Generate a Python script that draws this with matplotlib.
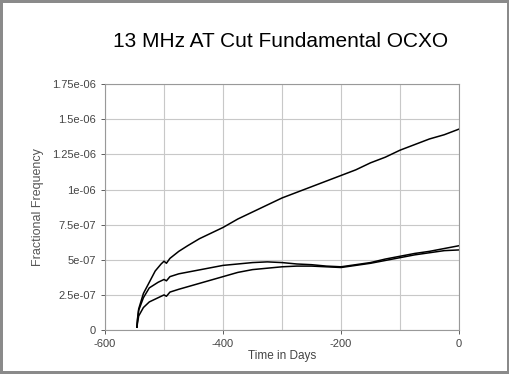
import matplotlib.pyplot as plt
import numpy as np

plt.rcParams['font.family'] = ['Liberation Sans', 'DejaVu Sans']
plt.rcParams['axes.unicode_minus'] = False

# values (days, fractional frequency)
days_top = [-546, -545, -543, -535, -525, -515, -505, -500, -496, -490, -475, -460,
            -440, -420, -400, -375, -350, -325, -300, -275, -250, -225, -200,
            -175, -150, -125, -100, -75, -50, -25, 0]
freq_top = [0.02, 0.08, 0.15, 0.26, 0.34, 0.42, 0.47, 0.49, 0.475, 0.51, 0.56, 0.60,
            0.65, 0.69, 0.73, 0.79, 0.84, 0.89, 0.94, 0.98, 1.02, 1.06, 1.10,
            1.14, 1.19, 1.23, 1.28, 1.32, 1.36, 1.39, 1.43]

days_mid = [-546, -545, -543, -535, -525, -510, -500, -496, -490, -475, -450, -425,
            -400, -375, -350, -325, -300, -275, -250, -225, -200, -175, -150,
            -125, -100, -75, -50, -25, 0]
freq_mid = [0.02, 0.07, 0.14, 0.23, 0.30, 0.34, 0.36, 0.35, 0.38, 0.40, 0.42, 0.44,
            0.46, 0.47, 0.48, 0.485, 0.48, 0.47, 0.465, 0.455, 0.45, 0.465, 0.48,
            0.505, 0.525, 0.545, 0.56, 0.58, 0.60]

days_low = [-546, -545, -543, -535, -525, -510, -500, -496, -490, -475, -450, -425,
            -400, -375, -350, -325, -300, -275, -250, -225, -200, -175, -150,
            -125, -100, -75, -50, -25, 0]
freq_low = [0.02, 0.05, 0.10, 0.16, 0.20, 0.23, 0.25, 0.24, 0.27, 0.29, 0.32, 0.35,
            0.38, 0.41, 0.43, 0.44, 0.45, 0.455, 0.455, 0.45, 0.445, 0.46, 0.475,
            0.495, 0.515, 0.535, 0.55, 0.565, 0.57]

y_ticks = [0, 2.5e-7, 5e-7, 7.5e-7, 1e-6, 1.25e-6, 1.5e-6, 1.75e-6]
y_labels = ['0', '2.5e-07', '5e-07', '7.5e-07', '1e-06', '1.25e-06', '1.5e-06', '1.75e-06']
x_ticks = [-600, -400, -200, 0]

fig = plt.figure(figsize=(5.1, 3.74), dpi=100)
fig.patch.set_edgecolor('#8a8a8a')
fig.patch.set_linewidth(3)
ax = fig.add_axes([0.206, 0.1176, 0.694, 0.6574])

for d, f in [(days_top, freq_top), (days_mid, freq_mid), (days_low, freq_low)]:
    ax.plot(d, np.array(f) * 1e-6, color='black', lw=1.1)

ax.set_xlim(-600, 0)
ax.set_ylim(0, 1.75e-6)
ax.set_xticks(x_ticks)
ax.set_xticks([-500, -300, -100], minor=True)
ax.set_yticks(y_ticks)
ax.set_yticklabels(y_labels)
ax.grid(True, which='both', color='#c8c8c8', lw=0.8)
ax.tick_params(which='minor', length=0)
ax.tick_params(labelsize=8, colors='#444444', length=3, width=0.6)
for s in ax.spines.values():
    s.set_color('#999999')
    s.set_linewidth(0.8)

ax.set_xlabel('Time in Days', fontsize=8.5, color='#444444', labelpad=1)
ax.set_ylabel('Fractional Frequency', fontsize=9, color='#555555', labelpad=6)
fig.text(0.551, 0.888, '13 MHz AT Cut Fundamental OCXO', ha='center', va='center', fontsize=15)

fig.savefig('out.png', dpi=100)
